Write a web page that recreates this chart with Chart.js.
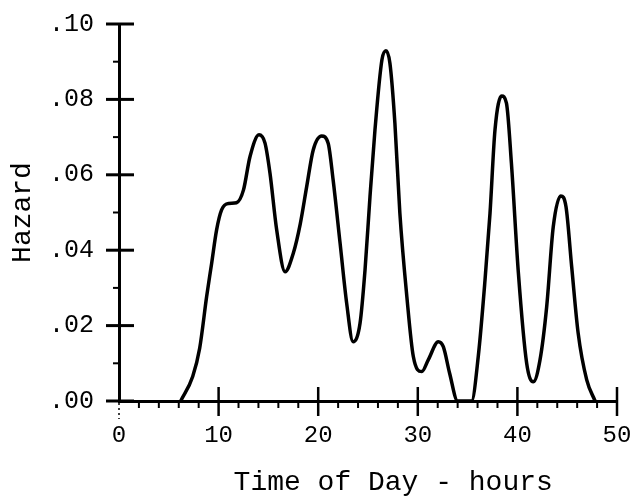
<!DOCTYPE html>
<html>
<head>
<meta charset="utf-8">
<script src="https://cdn.jsdelivr.net/npm/chart.js@4/dist/chart.umd.min.js"></script>
<style>
  html, body { margin: 0; padding: 0; background: #fff; }
  #wrap { width: 642px; height: 500px; }
</style>
</head>
<body>
<div id="wrap"><canvas id="c" width="642" height="500"></canvas></div>
<script>
// Time of day (hours) and hazard values
const hours = [6.2, 7.4, 8.1, 8.8, 9.3, 9.8, 10.3, 11.0, 11.8, 12.5, 13.15, 14.06, 14.66, 15.16, 15.83, 16.67,
  17.5, 18.2, 18.84, 19.5, 20.35, 21.0, 21.5, 22.2, 22.86, 23.5, 24.2, 24.7, 25.2, 25.7, 26.4, 26.8, 27.2,
  27.7, 28.2, 28.9, 29.55, 30.4, 31.05, 32.06, 32.56, 33.2, 34.0, 35.4, 36.07, 36.75, 37.25, 37.75, 38.42,
  38.9, 39.4, 40.1, 40.93, 41.6, 42.27, 42.94, 43.6, 44.35, 44.88, 45.45, 46.1, 46.96, 47.8];
const hazard = [0, 0.0065, 0.0140, 0.0277, 0.0365, 0.0454, 0.0507, 0.0524, 0.0526, 0.056, 0.0648, 0.0706, 0.0684, 0.0604, 0.0454, 0.0343,
  0.0392, 0.047, 0.0568, 0.0666, 0.0703, 0.0684, 0.0586, 0.0418, 0.0259, 0.0157, 0.0206, 0.0347, 0.0542, 0.0719, 0.0905, 0.0929, 0.0896,
  0.0737, 0.0498, 0.0277, 0.0118, 0.0078, 0.0109, 0.0157, 0.0144, 0.0073, 0, 0, 0.0118, 0.0321, 0.0498, 0.0719, 0.0809,
  0.079, 0.063, 0.0339, 0.010, 0.0051, 0.0109, 0.025, 0.0462, 0.0544, 0.0515, 0.0356, 0.018, 0.0056, 0];
const xTickValues = [0, 10, 20, 30, 40, 50];
const xTickLabels = ['0', '10', '20', '30', '40', '50'];
const yTickValues = [0, 0.02, 0.04, 0.06, 0.08, 0.10];
const yTickLabels = ['.00', '.02', '.04', '.06', '.08', '.10'];
const xMinorValues = [2,4,6,8,12,14,16,18,22,24,26,28,32,34,36,38,42,44,46,48];
const yMinorValues = [0.01, 0.03, 0.05, 0.07, 0.09];
const xTitle = 'Time of Day - hours';
const yTitle = 'Hazard';

const points = hours.map((h, i) => ({ x: h, y: hazard[i] }));
const MONO = '"Liberation Mono", "DejaVu Sans Mono", monospace';

const tickMarks = {
  id: 'tickMarks',
  afterDraw(chart) {
    const ctx = chart.ctx;
    const xs = chart.scales.x, ys = chart.scales.y;
    const y0 = ys.getPixelForValue(0);
    const x0 = xs.getPixelForValue(0);
    ctx.save();
    ctx.strokeStyle = '#000';
    ctx.lineCap = 'butt';
    ctx.lineWidth = 2.5;
    xTickValues.forEach(v => {
      if (v === 0) return;
      const px = xs.getPixelForValue(v);
      ctx.beginPath(); ctx.moveTo(px, y0 - 14); ctx.lineTo(px, y0 + 15); ctx.stroke();
    });
    ctx.lineWidth = 2;
    xMinorValues.forEach(v => {
      const px = xs.getPixelForValue(v);
      ctx.beginPath(); ctx.moveTo(px, y0); ctx.lineTo(px, y0 + 7); ctx.stroke();
    });
    ctx.lineWidth = 1.5;
    ctx.setLineDash([2, 3]);
    ctx.beginPath(); ctx.moveTo(x0, y0 + 2); ctx.lineTo(x0, y0 + 18); ctx.stroke();
    ctx.setLineDash([]);
    ctx.lineWidth = 3;
    yTickValues.forEach(v => {
      const py = ys.getPixelForValue(v);
      ctx.beginPath(); ctx.moveTo(x0 - 13, py); ctx.lineTo(x0 + 15, py); ctx.stroke();
    });
    ctx.lineWidth = 2;
    yMinorValues.forEach(v => {
      const py = ys.getPixelForValue(v);
      ctx.beginPath(); ctx.moveTo(x0 - 6, py); ctx.lineTo(x0, py); ctx.stroke();
    });
    ctx.restore();
  }
};

new Chart(document.getElementById('c'), {
  type: 'line',
  data: {
    datasets: [{
      data: points,
      borderColor: '#000',
      borderWidth: 3.5,
      pointRadius: 0,
      fill: false,
      tension: 0.4,
      cubicInterpolationMode: 'monotone',
      clip: false
    }]
  },
  options: {
    responsive: false,
    animation: false,
    devicePixelRatio: 1,
    layout: { padding: { top: 24, right: 25, bottom: 0, left: 0 } },
    plugins: { legend: { display: false }, tooltip: { enabled: false } },
    scales: {
      x: {
        type: 'linear',
        min: 0, max: 50,
        afterBuildTicks(scale) { scale.ticks = xTickValues.map(v => ({ value: v })); },
        afterFit(scale) { scale.height = 99; scale.paddingLeft = 0; scale.paddingRight = 0; },
        grid: { display: false, drawTicks: false },
        border: { display: true, color: '#000', width: 3 },
        ticks: {
          color: '#000',
          padding: 20,
          maxRotation: 0,
          font: { family: MONO, size: 24 },
          callback(v) { const i = xTickValues.indexOf(v); return i >= 0 ? xTickLabels[i] : ''; }
        },
        title: {
          display: true,
          text: '   ' + xTitle,
          color: '#000',
          font: { family: MONO, size: 28 },
          padding: { top: 0, bottom: 1 }
        }
      },
      y: {
        type: 'linear',
        min: 0, max: 0.10,
        afterBuildTicks(scale) { scale.ticks = yTickValues.map(v => ({ value: v })); },
        afterFit(scale) { scale.width = 119; scale.paddingTop = 0; scale.paddingBottom = 0; },
        grid: { display: false, drawTicks: false },
        border: { display: true, color: '#000', width: 3 },
        ticks: {
          color: '#000',
          padding: 25,
          font: { family: MONO, size: 25 },
          callback(v) {
            const i = yTickValues.findIndex(t => Math.abs(t - v) < 1e-9);
            return i >= 0 ? yTickLabels[i] : '';
          }
        },
        title: {
          display: true,
          text: yTitle,
          color: '#000',
          font: { family: MONO, size: 28 },
          padding: { top: 6, bottom: 0 }
        }
      }
    }
  },
  plugins: [tickMarks]
});
</script>
</body>
</html>
